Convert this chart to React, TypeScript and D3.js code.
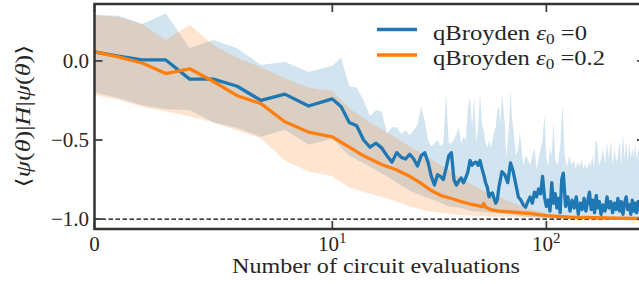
import React from "react";
import * as d3 from "d3";

// blue: qBroyden eps0 = 0
const blueMeanX = [0, 1, 2, 3, 4, 5, 6, 7, 8, 9, 10, 11, 12, 13, 14, 15, 16, 17, 18, 19, 20, 21, 22, 23, 24, 25, 26, 27, 28, 29, 30, 31, 32, 33, 34, 35, 36, 37, 38, 39, 40, 41, 42, 43, 44, 45, 46, 47, 48, 49, 50, 51, 52, 53, 54, 55, 56, 57, 58, 59, 60, 62, 64, 66, 68, 70, 72, 74, 76, 78, 80, 82, 84, 86, 88, 90, 92, 94, 96, 98, 100, 102, 104, 106, 108, 110, 112, 114, 116, 118, 120, 123, 126, 129, 132, 135, 138, 141, 144, 147, 150, 153, 156, 159, 162, 165, 168, 171, 174, 177, 180, 184, 188, 192, 196, 200, 204, 208, 212, 216, 220, 224, 228, 232, 236, 240, 244, 248, 252, 256, 260, 264, 268, 272, 276, 280, 284, 288];
const blueMean = [0.057, 0.03, 0.006, 0.006, -0.115, -0.115, -0.16, -0.25, -0.21, -0.285, -0.24,
  -0.29, -0.39, -0.41, -0.5, -0.545, -0.52, -0.55, -0.6, -0.64, -0.58,
  -0.61, -0.62, -0.59, -0.62, -0.665, -0.6, -0.58, -0.64, -0.73, -0.785,
  -0.72, -0.73, -0.75, -0.68, -0.6, -0.58, -0.75, -0.785, -0.76, -0.74,
  -0.77, -0.74, -0.7, -0.63, -0.66, -0.645, -0.64, -0.66, -0.63, -0.68,
  -0.72, -0.77, -0.8, -0.86, -0.84, -0.835, -0.87, -0.9, -0.88, -0.8,
  -0.7, -0.72, -0.77, -0.645, -0.7, -0.78, -0.86, -0.88, -0.91, -0.925,
  -0.89, -0.86, -0.9, -0.83, -0.86, -0.81, -0.84, -0.73, -0.86, -0.92,
  -0.88, -0.95, -0.77, -0.9, -0.84, -0.93, -0.87, -0.96, -0.75, -0.71,
  -0.92, -0.86, -0.95, -0.88, -0.93, -0.86, -0.97, -0.9, -0.94, -0.87,
  -0.95, -0.89, -0.83, -0.94, -0.88, -0.96, -0.85, -0.93, -0.89, -0.97,
  -0.91, -0.95, -0.86, -0.93, -0.89, -0.96, -0.9, -0.94, -0.87, -0.95,
  -0.89, -0.97, -0.9, -0.86, -0.94, -0.91, -0.97, -0.88, -0.95, -0.9,
  -0.96, -0.89, -0.94, -0.87, -0.95, -0.91, -0.96];

const blueUpX = [0, 1, 2, 3, 4, 5, 6, 7, 8, 9, 10, 11, 12, 13, 14, 15, 16, 17, 18, 19, 20, 21, 22, 23, 24, 25, 26, 27, 28, 29, 30, 31, 32, 33, 34, 35, 36, 37, 38, 39, 40, 41, 42, 43, 44, 45, 46, 47, 48, 49, 50, 51, 52, 53, 54, 55, 56, 57, 58, 59, 60, 61, 62, 63, 64, 65, 66, 67, 68, 69, 70, 72, 74, 75, 76, 78, 80, 82, 84, 86, 88, 90, 92, 94, 96, 98, 100, 102, 104, 106, 108, 110, 113, 116, 119, 122, 125, 128, 131, 134, 137, 140, 143, 146, 149, 152, 155, 158, 161, 164, 167, 170, 173, 176, 180, 184, 188, 192, 196, 200, 204, 208, 212, 216, 220, 224, 228, 232, 236, 240, 244, 248, 252, 256, 260, 264, 270, 276, 282, 288];
const blueUp = [0.29, 0.285, 0.234, 0.3, 0.082, 0.133, 0.08, -0.025, -0.006, -0.07, -0.03,
  0.02, -0.16, -0.17, -0.25, -0.35, -0.31, -0.32, -0.46, -0.42, -0.42,
  -0.46, -0.44, -0.47, -0.44, -0.4, -0.29, -0.38, -0.5, -0.54, -0.52,
  -0.5, -0.54, -0.52, -0.2, -0.52, -0.52, -0.5, -0.46, -0.42, -0.52,
  -0.48, -0.5, -0.3, -0.23, -0.42, -0.23, -0.52, -0.42, -0.2, -0.4,
  -0.44, -0.52, -0.55, -0.5, -0.55, -0.5, -0.45, -0.42, -0.31, -0.29,
  -0.4, -0.2, -0.3, -0.4, -0.61, -0.5, -0.4, -0.18, -0.35, -0.42,
  -0.6, -0.55, -0.45, -0.5, -0.66, -0.6, -0.62, -0.66, -0.6, -0.55,
  -0.68, -0.62, -0.55, -0.5, -0.34, -0.62, -0.66, -0.55, -0.6, -0.39,
  -0.62, -0.66, -0.55, -0.28, -0.61, -0.67, -0.6, -0.66, -0.63, -0.68,
  -0.64, -0.67, -0.62, -0.68, -0.65, -0.69, -0.64, -0.66, -0.6, -0.67,
  -0.5, -0.52, -0.66, -0.62, -0.55, -0.65, -0.52, -0.62, -0.5, -0.66,
  -0.55, -0.64, -0.6, -0.5, -0.65, -0.45, -0.62, -0.5, -0.64, -0.52,
  -0.62, -0.55, -0.6, -0.52, -0.62, -0.55, -0.6, -0.55, -0.6];

const blueLowX = [0, 1, 2, 3, 4, 5, 6, 7, 8, 9, 10, 12, 15, 18, 20, 23, 27, 30, 35, 40, 45, 50, 60, 70, 80, 90, 100, 130, 200, 288];
const blueLow = [-0.2, -0.235, -0.28, -0.305, -0.31, -0.39, -0.425, -0.48, -0.435, -0.53, -0.49, -0.6, -0.67, -0.73, -0.77, -0.82, -0.86, -0.88, -0.92, -0.93, -0.95, -0.955, -0.965, -0.975, -0.985, -0.99, -0.995, -1.0, -1.0, -1.0];

// orange: qBroyden eps0 = 0.2
const orangeMeanX = [0, 1, 2, 3, 4, 5, 6, 7, 8, 9, 10, 12, 14, 17, 20, 23, 26, 29, 32, 36, 40, 44, 48, 50, 51, 52, 55, 60, 68, 84, 100, 130, 170, 220, 288];
const orangeMean = [0.057, 0.025, -0.013, -0.08, -0.05, -0.13, -0.22, -0.27, -0.385, -0.45, -0.48, -0.545, -0.6, -0.655, -0.69, -0.73, -0.775, -0.82, -0.85, -0.87, -0.89, -0.905, -0.915, -0.922, -0.902, -0.925, -0.94, -0.95, -0.955, -0.965, -0.978, -0.988, -0.992, -0.995, -0.997];

const orangeUpX = [0, 1, 2, 3, 4, 5, 6, 7, 8, 9, 10, 12, 15, 19, 23, 28, 32, 40, 50, 65, 80, 100, 130, 200, 288];
const orangeUp = [0.29, 0.28, 0.234, 0.133, 0.228, 0.1, 0.02, -0.04, -0.11, -0.17, -0.19, -0.3, -0.39, -0.47, -0.54, -0.61, -0.66, -0.74, -0.82, -0.88, -0.93, -0.965, -0.982, -0.99, -0.993];

const orangeLowX = [0, 1, 2, 3, 4, 5, 6, 7, 8, 9, 10, 12, 15, 19, 23, 28, 32, 40, 55, 80, 120, 288];
const orangeLow = [-0.215, -0.245, -0.29, -0.32, -0.35, -0.39, -0.44, -0.49, -0.63, -0.7, -0.73, -0.8, -0.84, -0.88, -0.92, -0.95, -0.96, -0.975, -0.985, -0.99, -0.998, -1.003];

const yTicks = [0, -0.5, -1.0];
const yTickLabels = ["0.0", "\u22120.5", "\u22121.0"];
const xTicks = [0, 10, 100];
const xTickBase = ["0", "10", "10"];
const xTickExp = ["", "1", "2"];
const legendLabels = ["0", "0.2"];

const W = 639;
const H = 284;
const BLUE = "#1f77b4";
const ORANGE = "#ff7f0e";
const FONT = "'Liberation Serif', 'DejaVu Serif', serif";
const INK = "#262626";

// matplotlib style symlog, linthresh = 10, linscale = 1
const LINTHRESH = 10;
const symT = (v: number) => {
  const a = Math.abs(v);
  const adj = 1 / (1 - 1 / 10);
  const s = Math.sign(v);
  return a <= LINTHRESH ? (s * a / LINTHRESH) * adj : s * (adj + Math.log10(a / LINTHRESH));
};

const left = 94.5, right = 645, top = 4, bottom = 229;
const xLin = d3.scaleLinear().domain([symT(0), symT(289)]).range([left, right]);
const xs = (v: number) => xLin(symT(v));
const ys = d3.scaleLinear().domain([-1.063, 0.36]).range([bottom, top]);

const pairs = (xv: number[], yv: number[]) => xv.map((v, i) => [v, yv[i]] as [number, number]);
const line = d3.line<[number, number]>().x((d) => xs(d[0])).y((d) => ys(d[1]));
const band = (ux: number[], uy: number[], lx: number[], ly: number[]) =>
  line([...pairs(ux, uy), ...pairs(lx, ly).reverse()]) + "Z";

export default function App() {
  const legendRows = [
    { color: BLUE, label: legendLabels[0], len: 154 },
    { color: ORANGE, label: legendLabels[1], len: 172 },
  ];
  return (
    <svg width={W} height={H} style={{ position: "fixed", left: 0, top: 0, background: "#fff" }} fontFamily={FONT}>
      <defs>
        <clipPath id="plot">
          <rect x={left} y={top} width={right - left} height={bottom - top} />
        </clipPath>
      </defs>
      <g clipPath="url(#plot)">
        <path d={band(blueUpX, blueUp, blueLowX, blueLow)} fill={BLUE} fillOpacity={0.2} />
        <path d={band(orangeUpX, orangeUp, orangeLowX, orangeLow)} fill={ORANGE} fillOpacity={0.2} />
        <line x1={left} x2={right} y1={ys(-1)} y2={ys(-1)} stroke="#000" strokeWidth={1.2} strokeDasharray="4.5 2.5" />
        <path d={line(pairs(blueMeanX, blueMean)) || ""} fill="none" stroke={BLUE} strokeWidth={3.3} strokeLinejoin="round" />
        <path d={line(pairs(orangeMeanX, orangeMean)) || ""} fill="none" stroke={ORANGE} strokeWidth={3.3} strokeLinejoin="round" />
      </g>

      {/* ticks, inward on all four sides */}
      {yTicks.map((t) => (
        <g key={"yt" + t}>
          <line x1={left} x2={left + 8} y1={ys(t)} y2={ys(t)} stroke="#444" strokeWidth={1.8} />
          <line x1={right} x2={right - 8} y1={ys(t)} y2={ys(t)} stroke="#444" strokeWidth={1.8} />
        </g>
      ))}
      {xTicks.map((t) => (
        <g key={"xt" + t}>
          <line x1={xs(t)} x2={xs(t)} y1={bottom} y2={bottom - 8} stroke="#444" strokeWidth={1.8} />
          <line x1={xs(t)} x2={xs(t)} y1={top} y2={top + 8} stroke="#444" strokeWidth={1.8} />
        </g>
      ))}
      <rect x={left} y={top} width={right - left} height={bottom - top} fill="none" stroke="#333" strokeWidth={2.5} />

      {yTicks.map((t, i) => (
        <text key={"yl" + t} x={89} y={ys(t) + 7} textAnchor="end" fontSize={21} fill={INK}>
          {yTickLabels[i]}
        </text>
      ))}
      {xTicks.map((t, i) => (
        <text key={"xl" + t} x={xs(t)} y={251} textAnchor="middle" fontSize={21} fill={INK}>
          {xTickBase[i]}
          {xTickExp[i] && (
            <tspan dy={-8} fontSize={15}>
              {xTickExp[i]}
            </tspan>
          )}
        </text>
      ))}

      <text x={376} y={273} textAnchor="middle" fontSize={20} fill={INK} textLength={288} lengthAdjust="spacingAndGlyphs">
        Number of circuit evaluations
      </text>
      <text transform="translate(30,116) rotate(-90)" textAnchor="middle" fontSize={20} fill={INK} textLength={143} lengthAdjust="spacingAndGlyphs">
        {"\u27E8"}<tspan fontStyle="italic">{"\u03C8"}</tspan>(<tspan fontStyle="italic">{"\u03B8"}</tspan>)|<tspan fontStyle="italic">H</tspan>|<tspan fontStyle="italic">{"\u03C8"}</tspan>(<tspan fontStyle="italic">{"\u03B8"}</tspan>){"\u27E9"}
      </text>

      {legendRows.map((r, i) => {
        const yy = 29.5 + i * 25.5;
        return (
          <g key={"lg" + i}>
            <line x1={377} x2={417} y1={yy} y2={yy} stroke={r.color} strokeWidth={3.3} />
            <text x={433} y={yy + 10} fontSize={20} fill={INK} textLength={r.len} lengthAdjust="spacingAndGlyphs">
              qBroyden <tspan fontStyle="italic">{"\u03B5"}</tspan>
              <tspan dy={4} fontSize={14}>0</tspan>
              <tspan dy={-4}>{" =" + r.label}</tspan>
            </text>
          </g>
        );
      })}
    </svg>
  );
}
